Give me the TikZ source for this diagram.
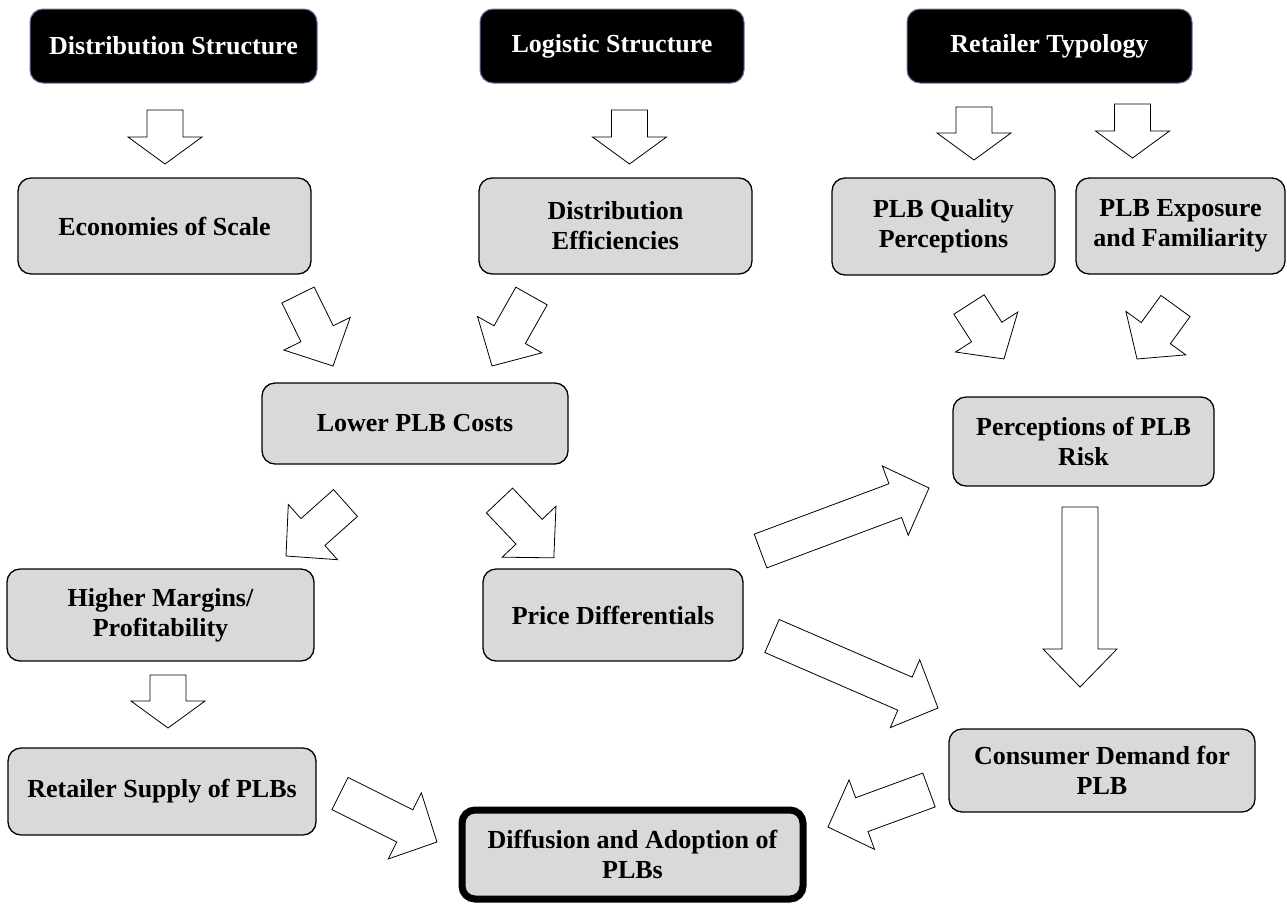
\documentclass[tikz,border=0pt]{standalone}
\usepackage{fontspec}
\setmainfont{Liberation Serif}
\usetikzlibrary{calc}

\definecolor{hdredge}{RGB}{128,100,162}

% block arrow from tail coordinate to tip coordinate, [head length]
\newcommand\fatarrow[3][36]{%
  \path let \p1=($(#3)-(#2)$) in
    \pgfextra{\pgfmathsetmacro\faang{atan2(\y1,\x1)}\xdef\faang{\faang}%
      \pgfmathsetmacro\falen{veclen(\x1,\y1)}\xdef\falen{\falen}};
  \draw[fatarrow,shift={(#2)},rotate=\faang] (0,-18) -- ({\falen-#1},-18) -- ({\falen-#1},-37) -- (\falen,0)
    -- ({\falen-#1},37) -- ({\falen-#1},18) -- (0,18) -- cycle;}

\begin{document}
\begin{tikzpicture}[x=1pt,y=-1pt,
  hdrbox/.style={draw=hdredge,line width=1pt,fill=black,text=white,rounded corners=13pt,align=center,inner sep=0pt,font=\fontsize{26}{30}\selectfont\bfseries},
  factor/.style={draw=black,line width=1.3pt,fill=black!15,rounded corners=13pt,align=center,inner sep=0pt,font=\fontsize{26}{30}\selectfont\bfseries},
  fatarrow/.style={draw=black,fill=white,line width=0.8pt,line join=miter}]
\useasboundingbox (0,0) rectangle (1287,903);

% top row
\node[hdrbox,minimum width=287pt,minimum height=74pt] (ds) at (173.5,46) {Distribution Structure};
\node[hdrbox,minimum width=264pt,minimum height=74pt] (ls) at (612,46) {Logistic Structure};
\node[hdrbox,minimum width=285pt,minimum height=74pt] (rt) at (1049.5,46) {Retailer Typology};

% factors
\node[factor,minimum width=293pt,minimum height=96pt] (ecs) at (164.5,226) {Economies of Scale};
\node[factor,minimum width=273pt,minimum height=96pt] (de) at (615.5,226) {Distribution\\Efficiencies};
\node[factor,minimum width=223pt,minimum height=97pt] (qp) at (943.5,226.5) {PLB Quality\\Perceptions};
\node[factor,minimum width=209pt,minimum height=96pt] (ef) at (1180.5,226) {PLB Exposure\\and Familiarity};
\node[factor,minimum width=306pt,minimum height=81pt] (lc) at (415,423.5) {Lower PLB Costs};
\node[factor,minimum width=261pt,minimum height=89pt] (risk) at (1083.5,441.5) {Perceptions of PLB\\Risk};
\node[factor,minimum width=307pt,minimum height=92pt] (hm) at (160.5,615) {Higher Margins/\\Profitability};
\node[factor,minimum width=260pt,minimum height=92pt] (pd) at (613,615) {Price Differentials};
\node[factor,minimum width=308pt,minimum height=87pt] (rs) at (162,791.5) {Retailer Supply of PLBs};
\node[factor,minimum width=306pt,minimum height=83pt] (cd) at (1102,770.5) {Consumer Demand for\\PLB};
\node[factor,line width=7pt,minimum width=341pt,minimum height=89pt] (dap) at (632.5,854.5) {Diffusion and Adoption of\\PLBs};

% arrow ends
\coordinate (ds_ecs_s) at (165,110);     \coordinate (ds_ecs_e) at (165,164);
\coordinate (ls_de_s) at (629.5,110);    \coordinate (ls_de_e) at (629.5,164);
\coordinate (rt_qp_s) at (974,107);      \coordinate (rt_qp_e) at (974,160);
\coordinate (rt_ef_s) at (1132.5,104);   \coordinate (rt_ef_e) at (1132.5,158);
\coordinate (ecs_lc_s) at (298,295);     \coordinate (ecs_lc_e) at (333,366);
\coordinate (de_lc_s) at (531.5,296);    \coordinate (de_lc_e) at (492,366);
\coordinate (lc_hm_s) at (345.5,503);    \coordinate (lc_hm_e) at (286,556);
\coordinate (lc_pd_s) at (499.5,500.5);  \coordinate (lc_pd_e) at (554,558);
\coordinate (qp_risk_s) at (969,304.5);  \coordinate (qp_risk_e) at (1004,359);
\coordinate (ef_risk_s) at (1175.5,306); \coordinate (ef_risk_e) at (1137,359);
\coordinate (pd_risk_s) at (760.5,551);  \coordinate (pd_risk_e) at (929,488);
\coordinate (pd_cd_s) at (772,636);      \coordinate (pd_cd_e) at (938,708);
\coordinate (risk_cd_s) at (1080,507);   \coordinate (risk_cd_e) at (1080,687);
\coordinate (hm_rs_s) at (168,675);      \coordinate (hm_rs_e) at (168,728);
\coordinate (rs_dap_s) at (340,793.5);   \coordinate (rs_dap_e) at (437,842);
\coordinate (cd_dap_s) at (929,790);     \coordinate (cd_dap_e) at (828,827);

% block arrows
\fatarrow[27]{ds_ecs_s}{ds_ecs_e}
\fatarrow[27]{ls_de_s}{ls_de_e}
\fatarrow[27]{rt_qp_s}{rt_qp_e}
\fatarrow[27]{rt_ef_s}{rt_ef_e}
\fatarrow{ecs_lc_s}{ecs_lc_e}
\fatarrow{de_lc_s}{de_lc_e}
\fatarrow{lc_hm_s}{lc_hm_e}
\fatarrow{lc_pd_s}{lc_pd_e}
\fatarrow[32]{qp_risk_s}{qp_risk_e}
\fatarrow[32]{ef_risk_s}{ef_risk_e}
\fatarrow{pd_risk_s}{pd_risk_e}
\fatarrow{pd_cd_s}{pd_cd_e}
\fatarrow[38]{risk_cd_s}{risk_cd_e}
\fatarrow[27]{hm_rs_s}{hm_rs_e}
\fatarrow{rs_dap_s}{rs_dap_e}
\fatarrow{cd_dap_s}{cd_dap_e}
\end{tikzpicture}
\end{document}
